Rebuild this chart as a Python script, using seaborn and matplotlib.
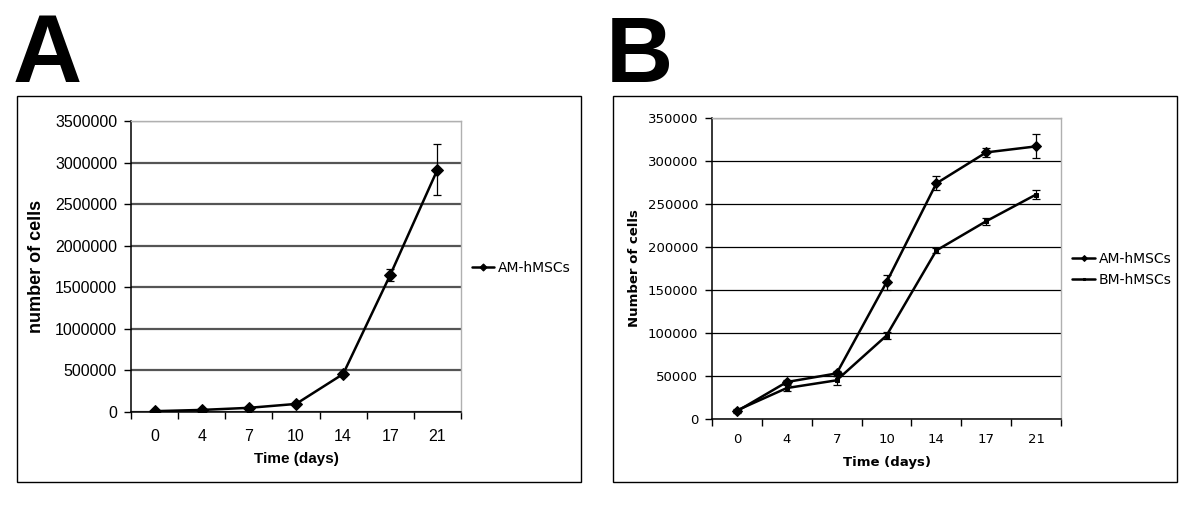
import numpy as np
import pandas as pd
import matplotlib
matplotlib.use("Agg")
import matplotlib.pyplot as plt
from matplotlib.patches import Rectangle
from matplotlib.ticker import FuncFormatter
import seaborn as sns

# ----- data -----
days = ["0", "4", "7", "10", "14", "17", "21"]

am_a = [10000, 25000, 50000, 97000, 457000, 1650000, 2915000]
am_a_err = [5000, 5000, 8000, 10000, 20000, 70000, 310000]

am_b = [9000, 43000, 53000, 159000, 274000, 310000, 317000]
am_b_err = [1500, 2000, 2500, 9000, 8000, 5000, 14000]
bm_b = [10000, 36000, 45000, 97000, 196000, 230000, 261000]
bm_b_err = [1500, 3000, 5000, 4000, 3000, 4000, 5000]

sns.set_theme(style="white", rc={"text.color": "black", "axes.labelcolor": "black",
                                  "xtick.color": "black", "ytick.color": "black"})
plt.rcParams["font.family"] = ["Liberation Sans", "DejaVu Sans"]

W, H = 1200, 505
fig = plt.figure(figsize=(W / 100, H / 100), dpi=100)


def fbox(l, t, r, b):
    return [l / W, 1 - b / H, (r - l) / W, (b - t) / H]


def style_axis(ax, ymax, ystep, tickfont, tsize, grid_col, grid_lw, xpad):
    n = len(days)
    ax.set_xlim(-0.5, n - 0.5)
    ax.set_ylim(0, ymax)
    ax.set_yticks(np.arange(0, ymax + 1, ystep))
    ax.yaxis.set_major_formatter(FuncFormatter(lambda v, p: f"{int(round(v))}"))
    ax.set_xticks(range(n))
    ax.set_xticklabels(days)
    ax.set_xticks(np.arange(-0.5, n, 1.0), minor=True)
    ax.tick_params(axis="x", which="major", length=0, pad=xpad)
    ax.tick_params(axis="x", which="minor", length=5, width=1, color="black", direction="out", bottom=True)
    ax.tick_params(axis="y", length=5, width=1, color="black", direction="out", left=True, pad=5)
    for lab in ax.get_xticklabels() + ax.get_yticklabels():
        lab.set_fontfamily(tickfont)
        lab.set_fontsize(tsize)
        lab.set_color("black")
    ax.yaxis.grid(True, color=grid_col, lw=grid_lw)
    ax.xaxis.grid(False)
    ax.set_axisbelow(True)
    for s in ["left", "bottom"]:
        ax.spines[s].set_color("black")
        ax.spines[s].set_linewidth(1.1)
    for s in ["top", "right"]:
        ax.spines[s].set_color("#b0b0b0")
        ax.spines[s].set_linewidth(1.0)


def plot_series(ax, vals, errs, marker, ms, label):
    df = pd.DataFrame({"pos": range(len(days)), "val": vals})
    sns.lineplot(data=df, x="pos", y="val", ax=ax, color="black", lw=1.8,
                 marker=marker, markersize=ms, markeredgecolor="black",
                 markerfacecolor="black", label=label)
    ax.errorbar(df["pos"], df["val"], yerr=errs, fmt="none", ecolor="black",
                elinewidth=0.9, capsize=3, capthick=0.9)


# ----- panel A -----
axA = fig.add_axes(fbox(131, 121, 461, 412))
plot_series(axA, am_a, am_a_err, "D", 6, "AM-hMSCs")
style_axis(axA, 3500000, 500000, "Liberation Sans", 11.5, "#555555", 1.6, 12)
axA.set_ylabel("number of cells", fontsize=13, fontweight="bold", labelpad=7)
axA.set_xlabel("Time (days)", fontsize=11, fontweight="bold", labelpad=6)
axA.legend(loc="center left", bbox_to_anchor=(1.015, 0.495), frameon=False, borderaxespad=0,
           handlelength=1.6, handletextpad=0.3, prop={"family": "DejaVu Sans", "size": 10},
           markerscale=0.6)

# ----- panel B -----
axB = fig.add_axes(fbox(712, 118, 1061, 419))
plot_series(axB, am_b, am_b_err, "D", 5, "AM-hMSCs")
plot_series(axB, bm_b, bm_b_err, "s", 3.5, "BM-hMSCs")
style_axis(axB, 350000, 50000, "DejaVu Sans", 9.5, "black", 0.9, 10)
axB.set_ylabel("Number of cells", fontsize=9.5, fontweight="bold", family=["DejaVu Sans"], labelpad=5)
axB.set_xlabel("Time (days)", fontsize=9.5, fontweight="bold", family=["DejaVu Sans"], labelpad=7)
axB.legend(loc="center left", bbox_to_anchor=(1.017, 0.498), frameon=False, borderaxespad=0,
           handlelength=1.6, handletextpad=0.3, prop={"family": "DejaVu Sans", "size": 10},
           markerscale=0.6, labelspacing=0.5)

# ----- panel frames and letters -----
for (l, t, r, b) in [(17, 96, 581, 482), (613, 96, 1177, 482)]:
    fig.add_artist(Rectangle((l / W, 1 - b / H), (r - l) / W, (b - t) / H,
                             transform=fig.transFigure, fill=False,
                             edgecolor="black", lw=1.0))

fig.text(13 / W, 1 - 82 / H, "A", fontsize=69, fontweight="bold", color="black",
         ha="left", va="baseline")
fig.text(606 / W, 1 - 82 / H, "B", fontsize=67, fontweight="bold", color="black",
         ha="left", va="baseline")

fig.savefig("out.png", dpi=100, facecolor="white")
